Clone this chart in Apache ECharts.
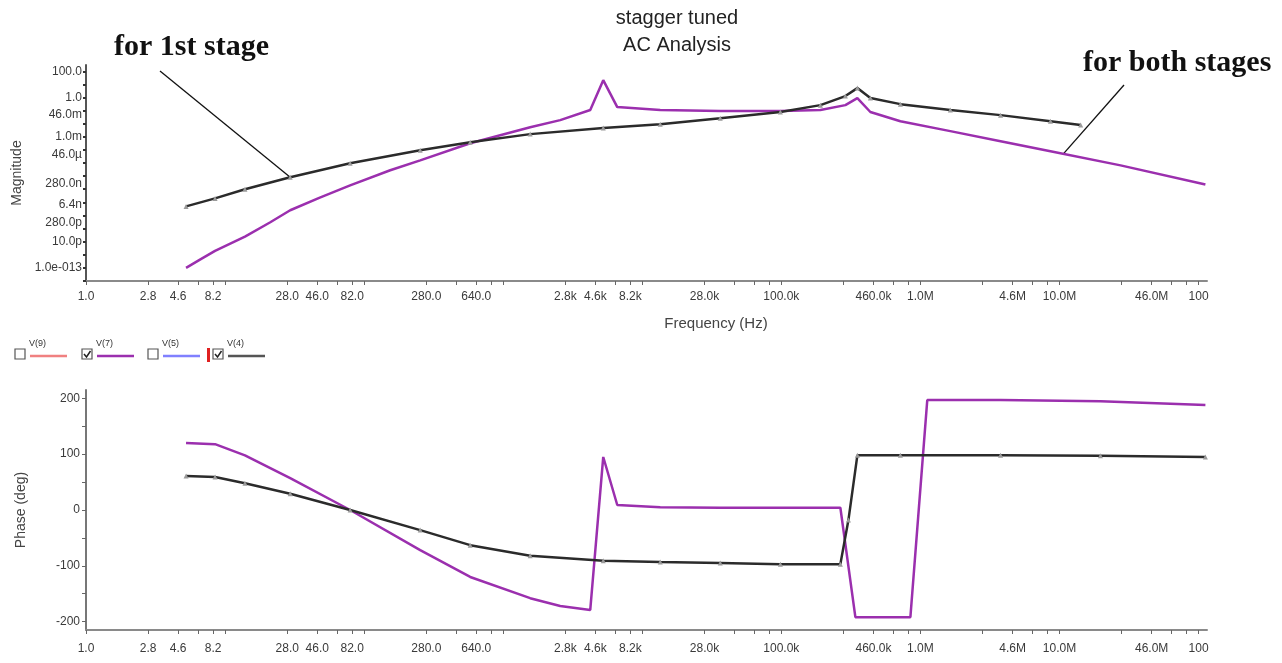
<!DOCTYPE html>
<html><head><meta charset="utf-8">
<script src="https://cdn.jsdelivr.net/npm/echarts@6/dist/echarts.min.js"></script>
<style>html,body{margin:0;padding:0;background:#fff}#c{width:1282px;height:663px}</style>
</head><body><div id="c"></div>
<script>
// ---- tick labels ----
const freqLabelVals = [1,2.8,4.6,8.2,28,46,82,280,640,2800,4600,8200,28000,100000,460000,1e6,4.6e6,1e7,4.6e7,1e8];
const freqLabelText = ['1.0','2.8','4.6','8.2','28.0','46.0','82.0','280.0','640.0','2.8k','4.6k','8.2k','28.0k','100.0k','460.0k','1.0M','4.6M','10.0M','46.0M','100'];
const freqTickMantissas = [1,2.8,4.6,6.4,8.2];
const magLabelVals = [100,1,0.046,0.001,4.6e-5,2.8e-7,6.4e-9,2.8e-10,1e-11,1e-13];
const magLabelText = ['100.0','1.0','46.0m','1.0m','46.0µ','280.0n','6.4n','280.0p','10.0p','1.0e-013'];
const phaseLabelVals = [-200,-100,0,100,200];
const phaseTickVals = [-200,-150,-100,-50,0,50,100,150,200];

// ---- magnitude data ----
const magFreqV7 = [5.24,6.6,8.47,13.9,21,29.4,48,79.3,154,253,579,1563,2570,4226,5240,6610,13460,36370,98400,191000,288600,352000,436600,717700,1.64e6,3.77e6,8.61e6,2.75e7,1.12e8];
const magV7 = [1e-13,4.3e-13,2e-12,2.45e-11,2.9e-10,2.5e-9,2.3e-8,1.95e-7,2.8e-6,1.6e-5,3.2e-4,5.4e-3,0.0186,0.11,21,0.186,0.11,0.091,0.091,0.11,0.26,0.9,0.078,0.0155,2.7e-3,4.6e-4,7.9e-5,6.6e-6,2.3e-7];
const magFreqV4 = [5.24,8.47,13.9,29.4,79.3,253,579,1563,5240,13460,36370,98400,191000,288600,352000,436600,717700,1.64e6,3.77e6,8.61e6,1.42e7];
const magV4 = [4.9e-9,2e-8,1e-7,8.1e-7,9.5e-6,9.3e-5,3.9e-4,1.6e-3,4.6e-3,9.2e-3,0.026,0.078,0.26,1.28,5.2,0.9,0.31,0.11,0.045,0.0155,7.8e-3];

// ---- phase data ----
const phFreqV7 = [5.24,8.47,13.9,29.4,79.3,253,579,1563,2570,4226,5240,6610,13460,36370,98400,191000,265700,340600,847000,1.12e6,3.77e6,1.97e7,1.12e8];
const phV7 = [120,118,98,57,0,-72,-120,-158,-172,-179,95,9,5,4,4,4,4,-192,-192,197,197,195,188];
const phFreqV4 = [5.24,8.47,13.9,29.4,79.3,253,579,1563,5240,13460,36370,98400,265700,303600,352000,717700,3.77e6,1.97e7,1.12e8];
const phV4 = [61,59,48,29,0,-36,-63,-82,-91,-93,-95,-97,-97,-18,98,98,98,97,95];

// annotation anchors (data space)
const annoFirst = [29.4, 8.1e-7];
const annoBoth = [1.07e7, 5.2e-5];

const zip = (a,b) => a.map((x,i)=>[x,b[i]]);
function lookupFmt(vals, texts){
  return function(v){
    const lv = Math.log10(Math.abs(v));
    for (let i=0;i<vals.length;i++){ if (Math.abs(Math.log10(vals[i]) - lv) < 0.005) return texts[i]; }
    return '';
  };
}
const freqTicks = [];
for (let k=0;k<8;k++) for (const m of freqTickMantissas) freqTicks.push(+(m*Math.pow(10,k)).toPrecision(3));
freqTicks.push(1e8);
const magTicks = [];
for (let k=-14;k<=2;k++) magTicks.push(Math.pow(10,k));

const PURPLE = '#9b2fae', BLACK = '#2b2b2b';
const labelFont = {fontFamily:'Liberation Sans Narrow, Liberation Sans, Arial', fontSize:12, color:'#3a3a3a'};

function xAxisCfg(gi, margin){
  return {
    type:'log', gridIndex:gi, min:1, max:1.15e8, logBase:10,
    axisLine:{show:true, onZero:false, lineStyle:{color:'#8a8a8a', width:2}},
    axisTick:{show:true, customValues:freqTicks, length:4, lineStyle:{color:'#666'}},
    axisLabel:Object.assign({show:true, customValues:freqLabelVals, formatter:lookupFmt(freqLabelVals,freqLabelText), margin:margin}, labelFont),
    splitLine:{show:false}, minorTick:{show:false}
  };
}

const chart = echarts.init(document.getElementById('c'), null, {renderer:'canvas'});
const option = {
  backgroundColor:'#fff',
  animation:false,
  grid:[
    {left:86, right:75, top:65, height:216},
    {left:86, right:75, top:390, height:240}
  ],
  xAxis:[xAxisCfg(0, 10), xAxisCfg(1, 13)],
  yAxis:[
    {type:'log', gridIndex:0, min:1e-14, max:300, logBase:10,
     name:'Magnitude', nameLocation:'middle', nameGap:58, nameRotate:90,
     nameTextStyle:{fontFamily:'Liberation Sans, Arial', fontSize:14, color:'#444'},
     axisLine:{show:true, lineStyle:{color:'#555', width:2}},
     axisTick:{show:true, customValues:magTicks, length:3, inside:false, lineStyle:{color:'#333', width:2}},
     axisLabel:Object.assign({customValues:magLabelVals, formatter:lookupFmt(magLabelVals,magLabelText), margin:4}, labelFont),
     splitLine:{show:false}},
    {type:'value', gridIndex:1, min:-215, max:215,
     name:'Phase (deg)', nameLocation:'middle', nameGap:58, nameRotate:90,
     nameTextStyle:{fontFamily:'Liberation Sans, Arial', fontSize:14, color:'#444'},
     axisLine:{show:true, onZero:false, lineStyle:{color:'#777', width:2}},
     axisTick:{show:true, customValues:phaseTickVals, length:4, lineStyle:{color:'#666'}},
     axisLabel:Object.assign({customValues:phaseLabelVals, margin:6}, labelFont),
     splitLine:{show:false}}
  ],
  series:[
    {name:'V(7) mag', type:'line', xAxisIndex:0, yAxisIndex:0, data:zip(magFreqV7,magV7), showSymbol:false,
     lineStyle:{color:PURPLE, width:2.5}, itemStyle:{color:PURPLE}},
    {name:'V(4) mag', type:'line', xAxisIndex:0, yAxisIndex:0, data:zip(magFreqV4,magV4),
     symbol:'triangle', symbolSize:5, showAllSymbol:true,
     lineStyle:{color:BLACK, width:2.5}, itemStyle:{color:'#9a9a9a'}},
    {name:'V(7) phase', type:'line', xAxisIndex:1, yAxisIndex:1, data:zip(phFreqV7,phV7), showSymbol:false,
     lineStyle:{color:PURPLE, width:2.5}, itemStyle:{color:PURPLE}},
    {name:'V(4) phase', type:'line', xAxisIndex:1, yAxisIndex:1, data:zip(phFreqV4,phV4),
     symbol:'triangle', symbolSize:5, showAllSymbol:true,
     lineStyle:{color:BLACK, width:2.5}, itemStyle:{color:'#9a9a9a'}}
  ]
};
chart.setOption(option);

// annotations & legend
const p1 = chart.convertToPixel({gridIndex:0}, annoFirst);
const p2 = chart.convertToPixel({gridIndex:0}, annoBoth);
const serif = 'Liberation Serif, Times New Roman, serif';
const sans = 'Liberation Sans, Arial, sans-serif';
function box(x,y,checked){
  const els=[{type:'rect', shape:{x:x,y:y,width:10,height:10}, style:{fill:'#fff', stroke:'#555', lineWidth:1.2}}];
  if (checked) els.push({type:'polyline', shape:{points:[[x+2,y+5],[x+4.5,y+8],[x+8.5,y+2]]}, style:{stroke:'#222', lineWidth:1.5, fill:null}});
  return els;
}
function legItem(x, label, color, checked){
  return [].concat(box(x,349,checked), [
    {type:'text', style:{x:x+14, y:344, text:label, font:'9px '+sans, fill:'#333', verticalAlign:'middle'}},
    {type:'line', shape:{x1:x+15,y1:356,x2:x+52,y2:356}, style:{stroke:color, lineWidth:2.5}}
  ]);
}
const graphics = [].concat(
  [
    {type:'text', style:{x:677, y:18, text:'stagger tuned', font:'20px '+sans, fill:'#222', align:'center', verticalAlign:'middle'}},
    {type:'text', style:{x:677, y:45, text:'AC Analysis', font:'20px '+sans, fill:'#222', align:'center', verticalAlign:'middle'}},
    {type:'text', style:{x:716, y:324, text:'Frequency (Hz)', font:'15px '+sans, fill:'#444', align:'center', verticalAlign:'middle'}},
    {type:'text', style:{x:114, y:47, text:'for 1st stage', font:'bold 30px '+serif, fill:'#111', verticalAlign:'middle'}},
    {type:'line', shape:{x1:160,y1:71,x2:p1[0],y2:p1[1]}, style:{stroke:'#111', lineWidth:1.3}},
    {type:'text', style:{x:1083, y:63, text:'for both stages', font:'bold 30px '+serif, fill:'#111', verticalAlign:'middle'}},
    {type:'line', shape:{x1:1124,y1:85,x2:p2[0],y2:p2[1]}, style:{stroke:'#111', lineWidth:1.3}},
    {type:'rect', shape:{x:207,y:348,width:3,height:14}, style:{fill:'#e02020'}}
  ],
  legItem(15,'V(9)','#f08080',false),
  legItem(82,'V(7)',PURPLE,true),
  legItem(148,'V(5)','#8080ff',false),
  legItem(213,'V(4)','#555',true)
);
chart.setOption({graphic:{elements:graphics}});
</script>
</body></html>
